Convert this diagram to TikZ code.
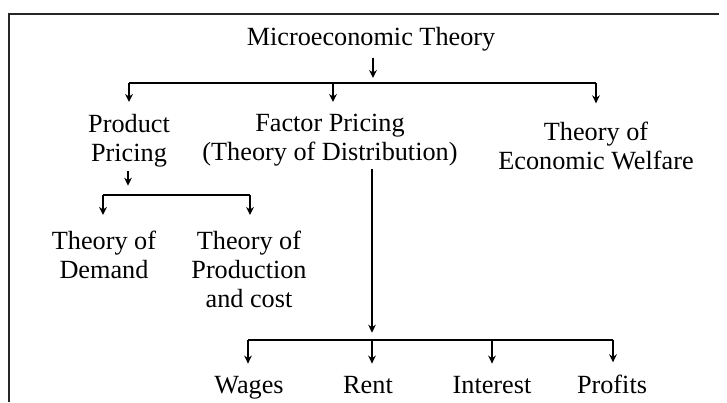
\documentclass[tikz,border=0pt]{standalone}
\usepackage{fontspec}
\setmainfont{Liberation Serif}
\usetikzlibrary{positioning,arrows.meta}
\tikzset{
  flowarrow/.style={-{Stealth[length=2.4mm, width=2.3mm]}, line width=1.1pt},
  barline/.style={line width=1.8pt},
  topic/.style={align=center, inner sep=0pt, anchor=north, font=\fontsize{22.4}{24.8}\selectfont},
  leaf/.style={inner sep=0pt, anchor=base, font=\fontsize{22.4}{24.8}\selectfont}
}

\begin{document}
\begin{tikzpicture}[x=0.3mm, y=-0.3mm]
  \useasboundingbox (0,0) rectangle (727,402);
  % frame
  \draw[line width=1.4pt, black!85] (9,402) -- (9,14) -- (719,14);
  % nodes
  \node[leaf] (micro) at (371,45) {Microeconomic Theory};
  \node[topic] (prod) at (129,114) {Product\\ Pricing};
  \node[topic] (factor) at (330,114) {Factor Pricing\\ (Theory of Distribution)};
  \node[topic] (welfare) at (596,122) {Theory of\\ Economic Welfare};
  \node[topic] (demand) at (104,231) {Theory of\\ Demand};
  \node[topic] (costs) at (249,231) {Theory of\\ Production\\ and cost};
  \node[leaf] (wages) at (249,393) {Wages};
  \node[leaf] (rent) at (368,393) {Rent};
  \node[leaf] (interest) at (492,393) {Interest};
  \node[leaf] (profits) at (612,393) {Profits};
  % bars
  \coordinate (topw) at (129,83);
  \coordinate (topm) at (373,83);
  \coordinate (tope) at (596,83);
  \coordinate (prodw) at (103,195);
  \coordinate (prodm) at (128,195);
  \coordinate (prode) at (250,195);
  \coordinate (facw) at (248,340);
  \coordinate (facm) at (372,340);
  \coordinate (face) at (613,340);
  \draw[barline] (topw) -- (tope);
  \draw[barline] (prodw) -- (prode);
  \draw[barline] (facw) -- (face);
  % arrows
  \draw[flowarrow, shorten <=2mm, shorten >=1.5mm] (micro.south -| topm) -- (topm);
  \draw[flowarrow, shorten >=3.6mm] (topw) -- (prod.north -| topw);
  \draw[flowarrow, shorten >=3.6mm] (topw -| 333,0) -- (factor.north -| 333,0);
  \draw[flowarrow, shorten >=5.6mm] (tope) -- (welfare.north);
  \draw[flowarrow, shorten <=1.2mm, shorten >=2.8mm] (prod.south -| prodm) -- (prodm);
  \draw[flowarrow, shorten >=4.8mm] (prodw) -- (demand.north -| prodw);
  \draw[flowarrow, shorten >=4.8mm] (prode) -- (costs.north -| prode);
  \draw[flowarrow, shorten <=0.6mm, shorten >=2.2mm] (factor.south -| facm) -- (facm);
  \draw[flowarrow, shorten >=3.6mm] (facw) -- (wages.north -| facw);
  \draw[flowarrow, shorten >=3.6mm] (facm) -- (rent.north -| facm);
  \draw[flowarrow, shorten >=3.6mm] (facw -| interest) -- (interest.north);
  \draw[flowarrow, shorten >=3.6mm] (face) -- (profits.north -| face);
\end{tikzpicture}
\end{document}
